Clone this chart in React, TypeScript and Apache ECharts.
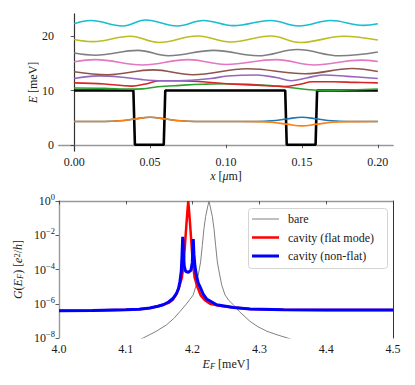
import React, { useEffect, useRef } from 'react';
import * as echarts from 'echarts';

const FONT = "'Liberation Serif', 'Times New Roman', Times, 'DejaVu Serif', serif";
const TXT = '#1a1a1a';

// ---------- top panel: potential and levels ----------
const xTicksTop = [0, 0.05, 0.1, 0.15, 0.2];
const yTicksTop = [0, 10, 20];

const blackX = [0, 0.039, 0.04, 0.059, 0.06, 0.139, 0.14, 0.159, 0.16, 0.2];
const blackE = [10, 10, 0, 0, 10, 10, 0, 0, 10, 10];

const blueX = [0, 0.02, 0.03, 0.04, 0.05, 0.06, 0.07, 0.08, 0.1, 0.12, 0.13, 0.14, 0.15, 0.16, 0.17, 0.18, 0.2];
const blueE = [4.28, 4.3, 4.42, 4.75, 5.08, 4.75, 4.42, 4.3, 4.28, 4.3, 4.42, 4.75, 5.08, 4.75, 4.42, 4.3, 4.28];

const orangeX = [0, 0.02, 0.03, 0.04, 0.05, 0.06, 0.07, 0.08, 0.1, 0.12, 0.13, 0.14, 0.15, 0.16, 0.17, 0.18, 0.2];
const orangeE = [4.28, 4.3, 4.42, 4.75, 5.08, 4.75, 4.42, 4.3, 4.28, 4.26, 4.14, 3.8, 3.48, 3.8, 4.14, 4.26, 4.28];

const greenX = [0, 0.02, 0.035, 0.045, 0.055, 0.07, 0.085, 0.1, 0.12, 0.135, 0.145, 0.155, 0.165, 0.18, 0.2];
const greenE = [10.45, 10.4, 10.25, 10.3, 10.7, 10.95, 11.15, 11.25, 11.05, 10.8, 10.45, 10.15, 10.02, 10.1, 10.25];

const redX = [0, 0.02, 0.038, 0.047, 0.056, 0.068, 0.085, 0.1, 0.12, 0.138, 0.148, 0.157, 0.17, 0.185, 0.2];
const redE = [11.4, 11.2, 10.8, 11.2, 11.8, 11.8, 11.6, 11.25, 11.0, 10.75, 11.1, 11.6, 11.6, 11.5, 11.4];

const purpleX = [0, 0.016, 0.03, 0.045, 0.058, 0.077, 0.09, 0.101, 0.12, 0.133, 0.143, 0.153, 0.164, 0.18, 0.2];
const purpleE = [12.2, 12.7, 12.5, 12.0, 11.8, 11.9, 12.2, 12.66, 12.85, 12.4, 11.8, 12.3, 12.85, 12.6, 12.2];

const brownX = [0, 0.022, 0.052, 0.078, 0.114, 0.152, 0.183, 0.2];
const brownE = [13.45, 12.9, 13.8, 12.9, 14.0, 13.1, 14.05, 13.5];

const pinkX = [0, 0.014, 0.045, 0.075, 0.1, 0.133, 0.158, 0.189, 0.2];
const pinkE = [15.3, 15.7, 14.7, 15.7, 14.8, 15.7, 14.7, 15.6, 15.35];

const grayX = [0, 0.014, 0.042, 0.062, 0.092, 0.121, 0.147, 0.175, 0.2];
const grayE = [16.9, 16.5, 17.4, 16.4, 17.4, 16.4, 17.55, 16.4, 17.1];

const oliveX = [0, 0.012, 0.037, 0.0555, 0.0814, 0.103, 0.1295, 0.149, 0.1775, 0.2];
const oliveE = [19.4, 19.0, 20.0, 18.85, 20.05, 18.95, 20.05, 18.85, 20.0, 19.3];

const cyanX = [0, 0.011, 0.032, 0.047, 0.068, 0.085, 0.105, 0.1295, 0.148, 0.169, 0.1905, 0.2];
const cyanE = [22.3, 22.9, 21.9, 23.0, 21.9, 22.9, 21.95, 22.9, 21.9, 22.9, 22.0, 22.3];

// ---------- bottom panel: conductance ----------
const bareEF = [4.11, 4.126, 4.145, 4.161, 4.172, 4.181, 4.19, 4.196, 4.201, 4.2055, 4.209, 4.212, 4.2145, 4.217, 4.2195, 4.2225, 4.2245,
  4.2265, 4.2295, 4.232, 4.2345, 4.237, 4.24, 4.2435, 4.2485, 4.254, 4.261, 4.27, 4.286, 4.298, 4.311, 4.325, 4.342, 4.36];
const bareG = [5.0e-9, 1.0e-8, 2.4e-8, 5.9e-8, 1.4e-7, 3.5e-7, 8.9e-7, 1.8e-6, 3.3e-6, 1.26e-5, 6.3e-5, 2.8e-4, 2.5e-3, 2.5e-2, 0.126, 0.45, 1.0,
  0.45, 0.126, 2.5e-2, 2.5e-3, 2.8e-4, 6.3e-5, 1.26e-5, 3.3e-6, 1.6e-6, 8.7e-7, 3.5e-7, 9.3e-8, 4.5e-8, 2.5e-8, 1.6e-8, 1.0e-8, 5.6e-9];

const flatEF = [4.0, 4.05, 4.1, 4.12, 4.136, 4.148, 4.156, 4.164, 4.17, 4.175, 4.18, 4.184, 4.1865, 4.1885, 4.1905, 4.1922, 4.1935,
  4.1948, 4.1965, 4.1985, 4.2005, 4.203, 4.207, 4.212, 4.218, 4.226, 4.24, 4.261, 4.286, 4.336, 4.4, 4.5];
const flatG = [3.9e-7, 4.0e-7, 4.4e-7, 4.8e-7, 5.6e-7, 7.1e-7, 8.7e-7, 1.12e-6, 1.66e-6, 3.2e-6, 1.0e-5, 3.5e-5, 2.0e-4, 2.5e-3, 3.2e-2, 0.25, 1.0,
  0.25, 3.2e-2, 2.5e-3, 2.0e-4, 3.5e-5, 1.0e-5, 3.2e-6, 1.66e-6, 1.0e-6, 7.6e-7, 6.0e-7, 5.0e-7, 4.4e-7, 4.3e-7, 4.3e-7];

const nonFlatEF = [4.0, 4.05, 4.1, 4.12, 4.136, 4.148, 4.156, 4.164, 4.171, 4.176, 4.179, 4.181, 4.183, 4.184, 4.1852, 4.1862, 4.1875,
  4.1895, 4.1935, 4.1975, 4.1995, 4.201, 4.202, 4.2035, 4.206, 4.2085, 4.211, 4.216, 4.221, 4.236, 4.261, 4.286, 4.336, 4.4, 4.5];
const nonFlatG = [3.9e-7, 4.0e-7, 4.4e-7, 4.8e-7, 5.6e-7, 7.1e-7, 8.7e-7, 1.26e-6, 2.1e-6, 4.0e-6, 7.9e-6, 2.0e-5, 7.9e-5, 5.0e-4, 8.1e-3, 1.0e-3, 1.6e-4,
  7.9e-5, 6.8e-5, 8.9e-5, 2.5e-4, 5.9e-3, 7.9e-4, 1.6e-4, 4.0e-5, 1.6e-5, 1.0e-5, 3.5e-6, 1.9e-6, 8.7e-7, 6.0e-7, 5.0e-7, 4.4e-7, 4.3e-7, 4.3e-7];

const xTicksBottom = [4.0, 4.5];
const logDecadeMin = -8;
const logDecadeMax = 0;

const legendNames = ['bare', 'cavity (flat mode)', 'cavity (non-flat)'];
const legendColors = ['#808080', '#ff0000', '#0000ff'];
const legendWidths = [1, 2.5, 3];

const zip = (xs: number[], ys: number[]) => xs.map((x, i) => [x, ys[i]]);
const zipLog = (xs: number[], ys: number[]) => xs.map((x, i) => [x, Math.log10(ys[i])]);

const levelSeries = [
  { name: 'l0', x: blueX, e: blueE, color: '#1f77b4' },
  { name: 'l1', x: orangeX, e: orangeE, color: '#ff7f0e' },
  { name: 'l2', x: greenX, e: greenE, color: '#2ca02c' },
  { name: 'l3', x: redX, e: redE, color: '#d62728' },
  { name: 'l4', x: purpleX, e: purpleE, color: '#9467bd' },
  { name: 'l5', x: brownX, e: brownE, color: '#8c564b' },
  { name: 'l6', x: pinkX, e: pinkE, color: '#e377c2' },
  { name: 'l7', x: grayX, e: grayE, color: '#7f7f7f' },
  { name: 'l8', x: oliveX, e: oliveE, color: '#bcbd22' },
  { name: 'l9', x: cyanX, e: cyanE, color: '#17becf' },
];

const richBase = {
  i: { fontFamily: FONT, fontSize: 12, fontStyle: 'italic', color: TXT, fill: TXT },
  sub: { fontFamily: FONT, fontSize: 8.5, fontStyle: 'italic', color: TXT, fill: TXT, verticalAlign: 'bottom' },
  sup: { fontFamily: FONT, fontSize: 8.5, color: TXT, fill: TXT, verticalAlign: 'top' },
  n: { fontFamily: FONT, fontSize: 12, color: TXT, fill: TXT },
  b: { fontFamily: FONT, fontSize: 12, color: TXT, lineHeight: 17 },
  s: { fontFamily: FONT, fontSize: 8.5, color: TXT, verticalAlign: 'top' },
};

const lightLine = { show: true, lineStyle: { color: '#999', width: 1.4 } };
const darkLine = { show: true, lineStyle: { color: '#333', width: 1 } };
const tickStyle = { show: true, length: 3.5, lineStyle: { color: '#333', width: 0.8 } };
const labelStyle = { fontFamily: FONT, fontSize: 12, color: TXT };
const nameStyle = { fontFamily: FONT, fontSize: 12, color: TXT, rich: richBase };

function helperAxis(gridIndex: number, position: string, min: number, max: number, line: any) {
  return {
    type: 'value', gridIndex, position, min, max,
    axisLine: line, axisTick: { show: false }, axisLabel: { show: false }, splitLine: { show: false },
  };
}

export default function App() {
  const ref = useRef<HTMLDivElement>(null);
  useEffect(() => {
    if (!ref.current) return;
    const chart = echarts.init(ref.current, null, { renderer: 'svg' });
    const topXMin = -0.01, topXMax = 0.21, topYMin = -1.15, topYMax = 24.1;
    const legendLeft = 248, legendTop = 208, rowGap = 18.5;
    const legendGraphic = [
      {
        type: 'rect', left: legendLeft, top: legendTop, z: 100,
        shape: { width: 139, height: 60, r: 3 },
        style: { fill: 'rgba(255,255,255,0.85)', stroke: '#d4d4d4', lineWidth: 1 },
      },
      ...legendNames.flatMap((name, k) => {
        const cy = legendTop + 11 + k * rowGap;
        return [
          {
            type: 'line', z: 101,
            shape: { x1: legendLeft + 4, y1: cy, x2: legendLeft + 31, y2: cy },
            style: { stroke: legendColors[k], lineWidth: legendWidths[k] },
          },
          {
            type: 'text', z: 101, x: legendLeft + 40, y: cy,
            style: { text: name, fontFamily: FONT, fontSize: 12, fill: TXT, verticalAlign: 'middle', align: 'left' },
          },
        ];
      }),
    ];
    const yTitles = [
      {
        type: 'text', z: 50, x: 33, y: 82.5, rotation: Math.PI / 2,
        style: { text: '{i|E}{n| [meV]}', rich: richBase, fontFamily: FONT, fontSize: 12, fill: TXT, align: 'center', verticalAlign: 'middle' },
      },
      {
        type: 'text', z: 50, x: 18, y: 269.5, rotation: Math.PI / 2,
        style: {
          text: '{i|G}{n|(}{i|E}{sub|F}{n|) [}{i|e}{sup|2}{n|/}{i|h}{n|]}', rich: richBase,
          fontFamily: FONT, fontSize: 12, fill: TXT, align: 'center', verticalAlign: 'middle',
        },
      },
    ];
    const option: any = {
      animation: false,
      backgroundColor: '#fff',
      textStyle: { fontFamily: FONT },
      grid: [
        { left: 59, top: 14, width: 334, height: 137, containLabel: false },
        { left: 59, top: 201, width: 334, height: 137, containLabel: false },
      ],
      graphic: [...yTitles, ...legendGraphic],
      xAxis: [
        {
          type: 'value', gridIndex: 0, position: 'bottom', min: topXMin, max: topXMax,
          axisLine: darkLine, axisTick: { ...tickStyle, customValues: xTicksTop },
          axisLabel: { ...labelStyle, margin: 5, customValues: xTicksTop, formatter: (v: number) => v.toFixed(2) },
          splitLine: { show: false },
          name: '{i|x}{n| [}{i|μ}{n|m]}', nameLocation: 'middle', nameGap: 19, nameTextStyle: nameStyle,
        },
        helperAxis(0, 'top', topXMin, topXMax, lightLine),
        {
          type: 'value', gridIndex: 1, position: 'bottom', min: xTicksBottom[0], max: xTicksBottom[1], interval: 0.1,
          axisLine: darkLine, axisTick: tickStyle,
          axisLabel: { ...labelStyle, margin: 5, formatter: (v: number) => v.toFixed(1) },
          splitLine: { show: false },
          name: '{i|E}{sub|F}{n| [meV]}', nameLocation: 'middle', nameGap: 20, nameTextStyle: nameStyle,
        },
        helperAxis(1, 'top', xTicksBottom[0], xTicksBottom[1], lightLine),
      ],
      yAxis: [
        {
          type: 'value', gridIndex: 0, position: 'left', min: topYMin, max: topYMax,
          axisLine: lightLine, axisTick: { ...tickStyle, customValues: yTicksTop },
          axisLabel: { ...labelStyle, margin: 5, customValues: yTicksTop, formatter: (v: number) => String(v) },
          splitLine: { show: false },
        },
        helperAxis(0, 'right', topYMin, topYMax, darkLine),
        {
          type: 'value', gridIndex: 1, position: 'left', min: logDecadeMin, max: logDecadeMax, interval: 2,
          axisLine: lightLine, axisTick: tickStyle,
          axisLabel: {
            ...labelStyle, margin: 4,
            formatter: (v: number) => {
              const n = Math.round(v);
              return `{b|10}{s|${n < 0 ? '\u2212' + (-n) : n}}`;
            },
            rich: richBase,
          },
          splitLine: { show: false },
        },
        helperAxis(1, 'right', logDecadeMin, logDecadeMax, darkLine),
      ],
      series: [
        {
          type: 'line', name: 'potential', xAxisIndex: 0, yAxisIndex: 0, data: zip(blackX, blackE),
          symbol: 'none', lineStyle: { color: '#000', width: 2.6 }, z: 2,
        },
        ...levelSeries.map((s) => ({
          type: 'line', name: s.name, xAxisIndex: 0, yAxisIndex: 0, data: zip(s.x, s.e),
          symbol: 'none', smooth: 0.4, lineStyle: { color: s.color, width: 1.6 }, itemStyle: { color: s.color }, z: 3,
        })),
        {
          type: 'line', name: legendNames[0], xAxisIndex: 2, yAxisIndex: 2, data: zipLog(bareEF, bareG),
          symbol: 'none', lineStyle: { color: legendColors[0], width: legendWidths[0] }, z: 3,
        },
        {
          type: 'line', name: legendNames[1], xAxisIndex: 2, yAxisIndex: 2, data: zipLog(flatEF, flatG),
          symbol: 'none', lineStyle: { color: legendColors[1], width: legendWidths[1] }, z: 4,
        },
        {
          type: 'line', name: legendNames[2], xAxisIndex: 2, yAxisIndex: 2, data: zipLog(nonFlatEF, nonFlatG),
          symbol: 'none', lineStyle: { color: legendColors[2], width: legendWidths[2] }, z: 5,
        },
      ],
    };
    chart.setOption(option);
    return () => chart.dispose();
  }, []);
  return <div ref={ref} style={{ position: 'fixed', left: 0, top: 0, width: 415, height: 385 }} />;
}
